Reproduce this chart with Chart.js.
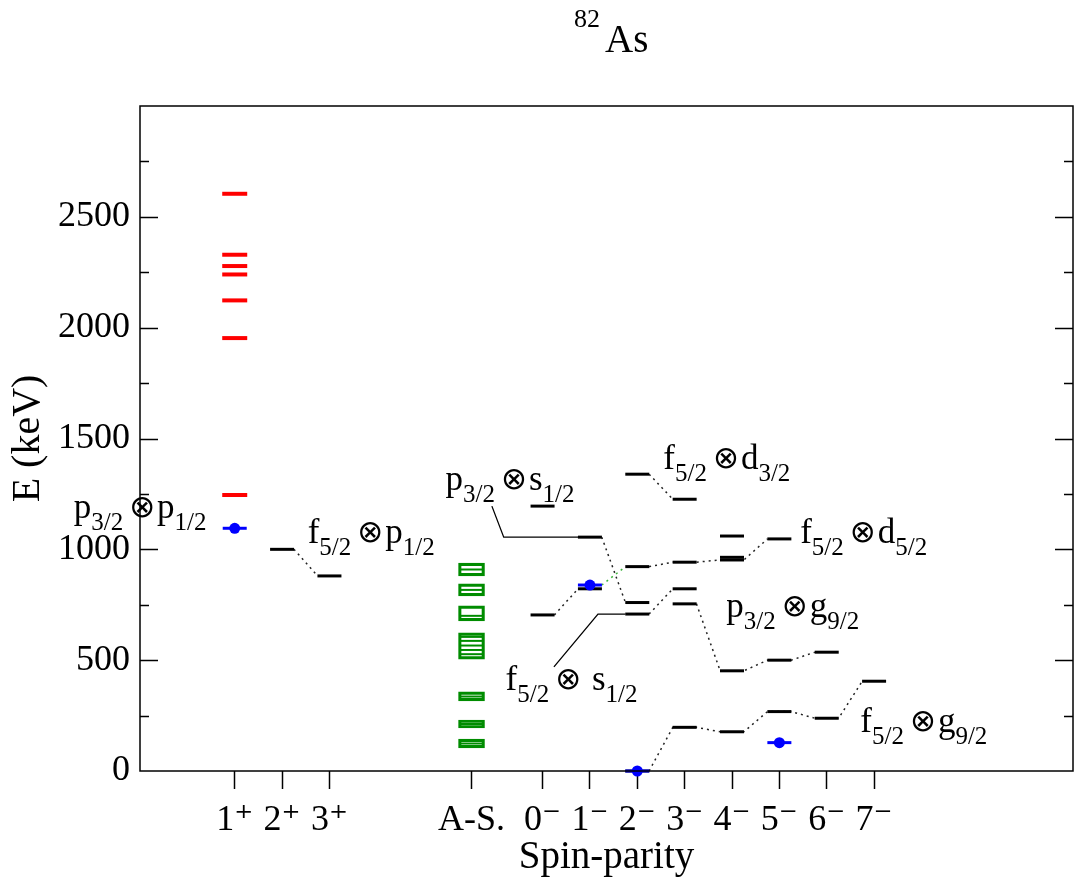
<!DOCTYPE html>
<html>
<head>
<meta charset="utf-8">
<title>82As levels</title>
<script src="https://cdn.jsdelivr.net/npm/chart.js@4.4.1/dist/chart.umd.min.js"></script>
<style>
  body { margin: 0; background: #fff; }
  #wrap { width: 1084px; height: 883px; }
</style>
</head>
<body>
<div id="wrap"><canvas id="levels" width="1084" height="883"></canvas></div>
<script>
// x axis: spin-parity columns
const spinLabels = ['1\u207A', '2\u207A', '3\u207A', 'A-S.', '0\u207B', '1\u207B', '2\u207B', '3\u207B', '4\u207B', '5\u207B', '6\u207B', '7\u207B'];
const spinPos = [2, 3, 4, 7, 8.5, 9.5, 10.5, 11.5, 12.5, 13.5, 14.5, 15.5];
const yTicks = [0, 500, 1000, 1500, 2000, 2500];

// calculated levels (keV), black
const calc2p = [1000];
const calc3p = [880];
const calc0m = [1195, 704];
const calc1m = [1055, 822];
const calc2m = [1339, 922, 760, 708, 0];
const calc3m = [1226, 942, 822, 754, 197];
const calc4m = [1060, 964, 952, 452, 177];
const calc5m = [1047, 500, 268];
const calc6m = [536, 238];
const calc7m = [405];

// red levels in the 1+ column
const red1p = [2604, 2329, 2278, 2240, 2123, 1953, 1245];

// experimental points, blue
const exptSpin = ['1\u207A', '1\u207B', '2\u207B', '5\u207B'];
const exptE = [1095, 839, 0, 128];

// A-S. column, green groups and the lines inside them
const asLow = [880, 790, 677, 505, 316, 194, 104];
const asHigh = [938, 844, 745, 623, 357, 230, 144];
const asInner = [909, 817, 700, 605, 587, 566, 546, 527, 336, 212, 124];

// dotted multiplet connections
const chains = [
  [['2\u207A', 1000], ['3\u207A', 880]],
  [['0\u207B', 704], ['1\u207B', 822]],
  [['1\u207B', 1055], ['2\u207B', 760]],
  [['2\u207B', 922], ['3\u207B', 942], ['4\u207B', 952], ['5\u207B', 1047]],
  [['2\u207B', 708], ['3\u207B', 822]],
  [['2\u207B', 1339], ['3\u207B', 1226]],
  [['3\u207B', 754], ['4\u207B', 452], ['5\u207B', 500], ['6\u207B', 536]],
  [['2\u207B', 0], ['3\u207B', 197], ['4\u207B', 177], ['5\u207B', 268], ['6\u207B', 238], ['7\u207B', 405]]
];
const greenChain = [['1\u207B', 839], ['2\u207B', 922]];

const xOf = s => spinPos[spinLabels.indexOf(s)];
const HALF = 0.25;

const levelPts = (spin, list) => list.map(e => ({ x: xOf(spin), y: e }));
const calcPoints = [
  ...levelPts('2\u207A', calc2p), ...levelPts('3\u207A', calc3p),
  ...levelPts('0\u207B', calc0m), ...levelPts('1\u207B', calc1m),
  ...levelPts('2\u207B', calc2m), ...levelPts('3\u207B', calc3m),
  ...levelPts('4\u207B', calc4m), ...levelPts('5\u207B', calc5m),
  ...levelPts('6\u207B', calc6m), ...levelPts('7\u207B', calc7m)
];
const exptPoints = exptSpin.map((s, i) => ({ x: xOf(s), y: exptE[i] }));

function chainPoints(chain) {
  const pts = [];
  chain.forEach(([s, e], i) => {
    if (i > 0) pts.push({ x: xOf(s) - HALF, y: e });
    if (i < chain.length - 1) pts.push({ x: xOf(s) + HALF, y: e });
  });
  return pts;
}

// term labels, anchored at left baseline in data units
const termLabels = [
  { at: [-1.40, 1141], parts: [['p'], ['3/2', 1], ['\u2297', 2], ['p'], ['1/2', 1]] },
  { at: [3.54, 1028], parts: [['f'], ['5/2', 1], ['\u2297', 2], ['p'], ['1/2', 1]] },
  { at: [6.45, 1267], parts: [['p'], ['3/2', 1], ['\u2297', 2], ['s'], ['1/2', 1]] },
  { at: [11.05, 1362], parts: [['f'], ['5/2', 1], ['\u2297', 2], ['d'], ['3/2', 1]] },
  { at: [13.94, 1028], parts: [['f'], ['5/2', 1], ['\u2297', 2], ['d'], ['5/2', 1]] },
  { at: [12.38, 695], parts: [['p'], ['3/2', 1], ['\u2297', 2], ['g'], ['9/2', 1]] },
  { at: [7.72, 365], parts: [['f'], ['5/2', 1], ['\u2297', 2], [' s'], ['1/2', 1]] },
  { at: [15.21, 176], parts: [['f'], ['5/2', 1], ['\u2297', 2], ['g'], ['9/2', 1]] }
];
const leaders = [
  [[7.43, 1195], [7.68, 1055], [9.25, 1055]],
  [[8.74, 470], [9.67, 708], [10.25, 708]]
];

const SERIF = '"Liberation Serif", "Times New Roman", "DejaVu Serif", serif';
const SYMBOL = '"DejaVu Sans", sans-serif';

const decorPlugin = {
  id: 'decor',
  afterDatasetsDraw(chart) {
    const { ctx, chartArea: a, scales: { x, y } } = chart;
    ctx.save();
    // leader lines
    ctx.strokeStyle = '#000';
    ctx.lineWidth = 1.3;
    leaders.forEach(path => {
      ctx.beginPath();
      path.forEach(([px, py], i) => {
        const X = x.getPixelForValue(px), Y = y.getPixelForValue(py);
        i ? ctx.lineTo(X, Y) : ctx.moveTo(X, Y);
      });
      ctx.stroke();
    });
    // term labels
    ctx.fillStyle = '#000';
    ctx.textBaseline = 'alphabetic';
    ctx.textAlign = 'left';
    termLabels.forEach(lab => {
      let cx = x.getPixelForValue(lab.at[0]);
      const by = y.getPixelForValue(lab.at[1]);
      lab.parts.forEach(([t, kind]) => {
        if (kind === 1) ctx.font = '25px ' + SERIF;
        else if (kind === 2) ctx.font = '31px ' + SYMBOL;
        else ctx.font = '35px ' + SERIF;
        if (kind === 2) cx += 2;
        ctx.fillText(t, cx, kind === 1 ? by + 12 : kind === 2 ? by - 1 : by);
        cx += ctx.measureText(t).width + (kind === 1 ? 4 : kind === 2 ? 2 : 0);
      });
    });
    // frame and inward ticks
    ctx.lineWidth = 1.5;
    ctx.strokeRect(a.left, a.top, a.right - a.left, a.bottom - a.top);
    ctx.beginPath();
    for (let v = 250; v < 3000; v += 250) {
      const len = v % 500 === 0 ? 18 : 9;
      const Y = Math.round(y.getPixelForValue(v)) + 0.5;
      ctx.moveTo(a.left, Y); ctx.lineTo(a.left + len, Y);
      ctx.moveTo(a.right, Y); ctx.lineTo(a.right - len, Y);
    }
    ctx.stroke();
    // title
    ctx.font = '26px ' + SERIF;
    ctx.fillText('82', 574, 27);
    ctx.font = '39px ' + SERIF;
    ctx.fillText('As', 605, 52);
    ctx.restore();
  }
};

const levelStyle = (color, width, r) => ({
  type: 'line', showLine: false, pointStyle: 'line', pointRadius: r, pointHoverRadius: r,
  pointBorderColor: color, pointBorderWidth: width, borderColor: color, clip: false
});

const datasets = [
  { label: 'expt', data: exptPoints, type: 'line', showLine: false, pointStyle: 'circle',
    pointRadius: 5.5, pointBackgroundColor: '#0000ff', pointBorderWidth: 0, clip: false },
  { label: 'expt bar', data: exptPoints, ...levelStyle('#0000ff', 3, 12) },
  { label: 'calc', data: calcPoints, ...levelStyle('#000', 3, 12) },
  { label: 'red', data: red1p.map(e => ({ x: xOf('1\u207A'), y: e })), ...levelStyle('#ff0000', 4, 12.5) },
  { label: 'A-S inner', data: asInner.map(e => ({ x: xOf('A-S.'), y: e })), ...levelStyle('#008c00', 2, 11) },
  { label: 'A-S', type: 'bar', data: asLow.map((lo, i) => ({ x: xOf('A-S.'), y: [lo, asHigh[i]] })),
    barThickness: 26, borderColor: '#008c00', borderWidth: 2.5, borderSkipped: false,
    backgroundColor: 'rgba(255,255,255,0)' },
  { label: 'green link', data: chainPoints(greenChain), type: 'line', borderColor: '#3cb43c',
    borderWidth: 1.5, borderDash: [2, 4], pointRadius: 0, fill: false },
  ...chains.map((c, i) => ({
    label: 'chain ' + i, data: chainPoints(c), type: 'line', borderColor: '#222',
    borderWidth: 1.5, borderDash: [2, 4], pointRadius: 0, fill: false, clip: false
  }))
];

new Chart(document.getElementById('levels'), {
  type: 'line',
  data: { datasets },
  plugins: [decorPlugin],
  options: {
    responsive: false,
    devicePixelRatio: 1,
    animation: false,
    events: [],
    layout: { autoPadding: false, padding: { top: 106, right: 11, left: 0, bottom: 0 } },
    plugins: { legend: { display: false }, tooltip: { enabled: false } },
    scales: {
      x: {
        type: 'linear', min: 0, max: 19.7, offset: false,
        afterFit: s => { s.height = 112; },
        afterBuildTicks: axis => { axis.ticks = spinPos.map(v => ({ value: v })); },
        ticks: {
          autoSkip: false, maxRotation: 0, padding: 10, color: '#000',
          font: { family: SERIF, size: 36 },
          callback: v => spinLabels[spinPos.indexOf(v)]
        },
        grid: { offset: false, drawOnChartArea: false, tickLength: 18, tickColor: '#000', tickWidth: 1.5 },
        border: { display: false },
        title: { display: true, text: 'Spin-parity', color: '#000',
          font: { family: SERIF, size: 39 }, padding: { top: 0, bottom: 2 } }
      },
      y: {
        min: 0, max: 3000,
        afterFit: s => { s.width = 140; },
        afterBuildTicks: axis => { axis.ticks = yTicks.map(v => ({ value: v })); },
        ticks: { padding: 10, color: '#000', font: { family: SERIF, size: 36 },
          callback: v => String(v) },
        grid: { display: false, drawTicks: false },
        border: { display: false },
        title: { display: true, text: 'E (keV)', color: '#000',
          font: { family: SERIF, size: 40 }, padding: { top: 4, bottom: 0 } }
      }
    }
  }
});
</script>
</body>
</html>
